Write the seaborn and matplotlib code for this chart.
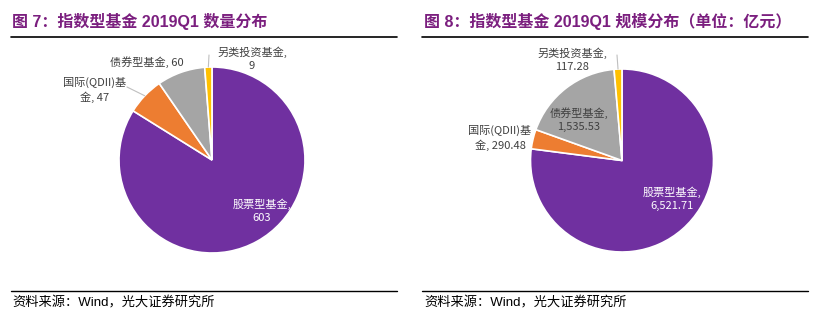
import numpy as np
import matplotlib
matplotlib.use("Agg")
import matplotlib.pyplot as plt
import seaborn as sns

sns.set_theme(style="white")
plt.rcParams["font.family"] = ["Noto Sans CJK SC", "DejaVu Sans"]
heading_family = ["Liberation Sans", "Noto Sans CJK SC"]

# Fund categories (clockwise from 12 o'clock)
categories = ["股票型基金", "国际(QDII)基金", "债券型基金", "另类投资基金"]
fund_counts = [603, 47, 60, 9]
fund_sizes = [6521.71, 290.48, 1535.53, 117.28]

count_labels = ["股票型基金,\n603", "国际(QDII)基\n金, 47", "债券型基金, 60", "另类投资基金,\n9"]
size_labels = ["股票型基金,\n6,521.71", "国际(QDII)基\n金, 290.48", "债券型基金,\n1,535.53", "另类投资基金,\n117.28"]

titles = ["图 7：指数型基金 2019Q1 数量分布", "图 8：指数型基金 2019Q1 规模分布（单位：亿元）"]
source_text = "资料来源：Wind，光大证券研究所"

colors = ["#7030A0", "#ED7D31", "#A5A5A5", "#FFC000"]
title_color = "#7B1F7F"
label_color = "#404040"

W, H = 816, 326
fig = plt.figure(figsize=(W / 100, H / 100), dpi=100)
ax = fig.add_axes([0, 0, 1, 1])
ax.set_xlim(0, W)
ax.set_ylim(0, H)
ax.axis("off")


def py(y):
    # pixel row (from top) to axis y
    return H - y


panels = [
    dict(values=fund_counts, labels=count_labels, cx=212, cy=160, r=93, x0=11, x1=397,
         tx=12,
         pos=[(262, 211), (95, 90), (147, 62), (252, 59)],
         leaders={1: (127, 87), 3: (209, 55)}),
    dict(values=fund_sizes, labels=size_labels, cx=622, cy=160.5, r=91.5, x0=422, x1=808,
         tx=424,
         pos=[(672, 199), (500, 138), (579, 119.5), (572, 59.5)],
         leaders={3: (617, 55)}),
]

for i, p in enumerate(panels):
    vals = np.array(p["values"], dtype=float)
    wedges, _ = ax.pie(vals, colors=colors, startangle=90, counterclock=False,
                       center=(p["cx"], py(p["cy"])), radius=p["r"], frame=True,
                       wedgeprops=dict(edgecolor="white", linewidth=1.2))
    ax.set_xlim(0, W)
    ax.set_ylim(0, H)
    ax.set_aspect("auto")

    # data labels
    for k, (lab, (lx, ly)) in enumerate(zip(p["labels"], p["pos"])):
        col = "white" if k == 0 else label_color
        ax.text(lx, py(ly), lab, ha="center", va="center", fontsize=8,
                color=col, linespacing=1.35)

    # leader lines to the wedge edge at its mid-angle
    for k, (sx, sy) in p["leaders"].items():
        w = wedges[k]
        mid = np.deg2rad((w.theta1 + w.theta2) / 2)
        ex = p["cx"] + p["r"] * np.cos(mid)
        ey = py(p["cy"]) + p["r"] * np.sin(mid)
        ax.plot([sx, ex], [py(sy), ey], color="#BFBFBF", lw=0.8)

    # title, rules and source
    ax.text(p["tx"], py(21), titles[i], ha="left", va="center", fontsize=11.5,
            fontweight="bold", color=title_color, family=heading_family)
    ax.plot([p["x0"], p["x1"]], [py(37), py(37)], color="black", lw=1.2)
    ax.plot([p["x0"], p["x1"]], [py(291), py(291)], color="black", lw=1.0)
    ax.text(p["tx"], py(303), source_text, ha="left", va="center", fontsize=9.5,
            color="black", family=heading_family)

ax.axis("off")
fig.savefig("out.png", dpi=100, facecolor="white")
